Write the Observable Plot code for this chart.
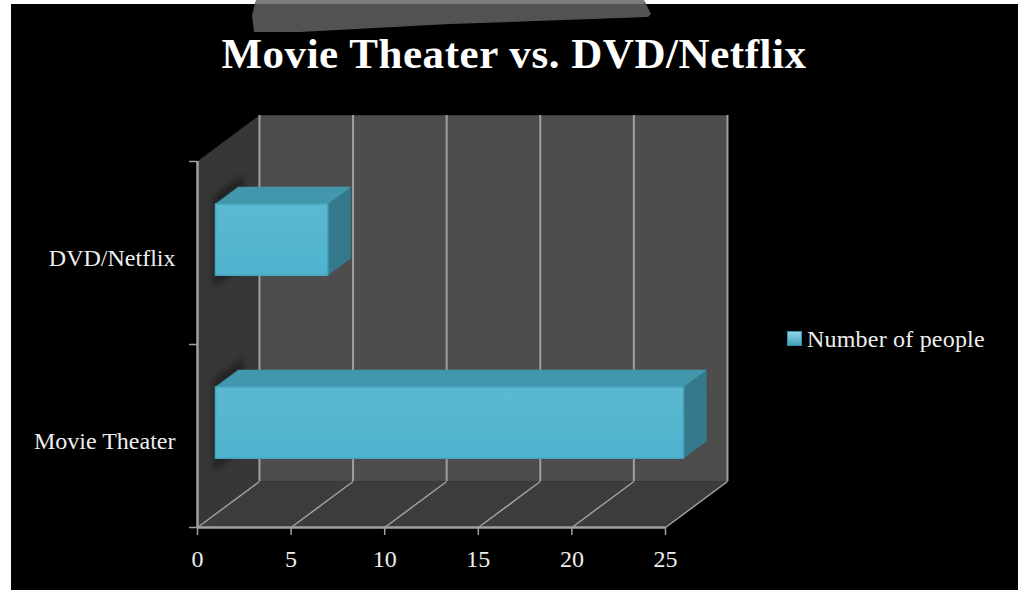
<!DOCTYPE html>
<html><head><meta charset="utf-8">
<script src="https://cdn.jsdelivr.net/npm/d3@7"></script>
<script src="https://cdn.jsdelivr.net/npm/@observablehq/plot@0.6"></script>
<style>
html,body{margin:0;padding:0;background:#fff;width:1018px;height:590px;overflow:hidden}
#sheet{position:absolute;left:11px;top:4px;right:0;bottom:0;background:#000}
#patch{position:absolute;left:0;top:0;width:1018px;height:40px;background:#525252;filter:blur(1px);
  clip-path:polygon(256px 0,644px 0,651px 14px,648px 17px,450px 24px,300px 32px,254px 32px,252px 15px)}
#patchTop{position:absolute;left:256px;top:0;width:388px;height:4px;background:#7c7c7c}
#title{position:absolute;left:0;width:1028px;top:29px;text-align:center;font:bold 43px "Liberation Serif",serif;letter-spacing:.55px;color:#fff;white-space:nowrap}
#chart{position:absolute;left:0;top:0}
#legend{position:absolute;left:787px;top:326px;display:flex;align-items:center;font:24px "Liberation Serif",serif;letter-spacing:.2px;color:#eee;white-space:nowrap}
#swatch{width:15px;height:15px;margin-right:5px;margin-top:-2px;box-sizing:border-box;background:linear-gradient(#8fd5e6,#45a3bb);border:1px solid #3a8ea5}
</style></head><body>
<div id="sheet"></div><div id="patch"></div><div id="patchTop"></div>
<div id="title">Movie Theater vs. DVD/Netflix</div>
<div id="chart"></div>
<div id="legend"><span id="swatch"></span><span>Number of people</span></div>
<script>
const categories = ["Movie Theater", "DVD/Netflix"];
const values = [25, 6];
const xTicks = [0, 5, 10, 15, 20, 25];
const seriesName = "Number of people";

// oblique projection: depth d runs 0 (front) to 1 (back wall)
const depthX = 3.31, depthY = 0.2514;
const px = (v, d) => v + d * depthX;
const py = (y, d) => y + d * depthY;
const pt = (name, v, y, d) => ({name, x: px(v, d), y: py(y, d)});
const quad = (name, ...p) => p.map(([v, y, d]) => pt(name, v, y, d));

const xMax = 25, yMax = categories.length;
const walls = [
  {fill: "#4d4d4d", pts: quad("back", [0,0,1],[xMax,0,1],[xMax,yMax,1],[0,yMax,1])},
  {fill: "#373737", pts: quad("side", [0,0,0],[0,0,1],[0,yMax,1],[0,yMax,0])},
  {fill: "#3c3c3c", pts: quad("floor", [0,0,0],[xMax,0,0],[xMax,0,1],[0,0,1])}
];

const z0 = 0.29, z1 = 0.66, half = 0.195;
const barFaces = [], shadows = [];
categories.forEach((c, i) => {
  const v = values[i], a = i + 0.5 - half, b = i + 0.5 + half;
  shadows.push(...quad("s" + i, [0,a-0.06,z0-0.03],[0,a-0.06,z0+0.45],[0,b+0.05,z0+0.45],[0,b+0.05,z0-0.03]));
  barFaces.push({fill: "#34798c", pts: quad("r" + i, [v,a,z0],[v,a,z1],[v,b,z1],[v,b,z0])});
  barFaces.push({fill: "#4397ad", pts: quad("t" + i, [0,b,z0],[v,b,z0],[v,b,z1],[0,b,z1])});
  barFaces.push({fill: "url(#front)", stroke: "#45a5bd", pts: quad("f" + i, [0,a,z0],[v,a,z0],[v,b,z0],[0,b,z0])});
});

const poly = f => Plot.line(f.pts, {x: "x", y: "y", z: "name", curve: "linear-closed",
  fill: f.fill, stroke: f.stroke || f.fill, strokeWidth: f.stroke ? 1.5 : 0.5, strokeLinejoin: "round"});

const grid = "#a0a0a0";
const plot = Plot.plot({
  width: 1018, height: 590,
  marginLeft: 197, marginRight: 353, marginTop: 161, marginBottom: 63,
  style: {background: "transparent", overflow: "visible"},
  x: {domain: [0, xMax]},
  y: {domain: [0, yMax]},
  marks: [
    ...walls.map(poly),
    Plot.line(shadows, {x: "x", y: "y", z: "name", curve: "linear-closed", fill: "#222", stroke: "none", imageFilter: "blur(3px)"}),
    // back-wall gridlines and floor gridlines
    Plot.ruleX(xTicks, {x: d => px(d, 1), y1: py(0, 1), y2: py(yMax, 1), stroke: grid, strokeWidth: 2, strokeOpacity: 1}),
    Plot.link(xTicks, {x1: d => d, y1: 0, x2: d => px(d, 1), y2: py(0, 1), stroke: grid, strokeWidth: 1.5, strokeOpacity: 1}),
    // axis lines
    Plot.ruleX([0], {y1: 0, y2: yMax, stroke: grid, strokeWidth: 2.5, strokeOpacity: 1}),
    Plot.ruleY([0], {x1: 0, x2: xMax, stroke: grid, strokeWidth: 2.5, strokeOpacity: 1}),
    Plot.axisX({ticks: xTicks, tickSize: 8, tickPadding: 14, stroke: grid, strokeWidth: 1.5, strokeOpacity: 1,
      tickFormat: d => d, fontSize: 24, fill: "#eee", fontFamily: "Liberation Serif", label: null}),
    Plot.axisY({ticks: [0, 1, 2], tickSize: 8, stroke: grid, strokeWidth: 1.5, strokeOpacity: 1, tickFormat: () => "", label: null}),
    Plot.axisY({ticks: categories.map((c, i) => i + 0.5), tickSize: 0, tickPadding: 22, dy: 5,
      tickFormat: d => categories[Math.floor(d)], fontSize: 24, fill: "#eee", fontFamily: "Liberation Serif", label: null}),
    ...barFaces.map(poly)
  ]
});
const ns = "http://www.w3.org/2000/svg";
const defs = document.createElementNS(ns, "defs");
defs.innerHTML = '<linearGradient id="front" x1="0" y1="0" x2="0" y2="1"><stop offset="0" stop-color="#5cb8d1"/><stop offset="1" stop-color="#4fb3cd"/></linearGradient>';
plot.insertBefore(defs, plot.firstChild);
document.getElementById("chart").append(plot);
</script></body></html>
